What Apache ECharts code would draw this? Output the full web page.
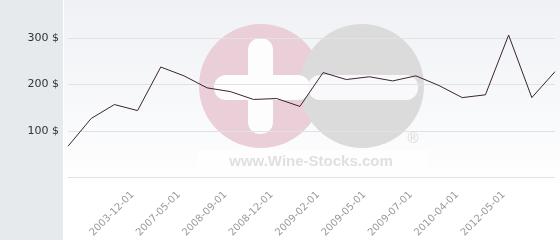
<!DOCTYPE html>
<html><head><meta charset="utf-8">
<script src="https://cdn.jsdelivr.net/npm/echarts@6/dist/echarts.min.js"></script>
<style>html,body{margin:0;padding:0;background:#fff}#c{width:560px;height:240px}</style>
</head><body><div id="c"></div>
<script>
var tickLabels = ['', '', '', '2003-12-01', '', '2007-05-01', '', '2008-09-01', '', '2008-12-01', '', '2009-02-01', '', '2009-05-01', '', '2009-07-01', '', '2010-04-01', '', '2012-05-01', '', ''];
var prices = [67, 127, 157, 144, 238, 219, 193, 185, 168, 170, 153, 226, 211, 217, 208, 219, 198, 172, 178, 307, 172, 228];
var yTicks = [0, 100, 200, 300];

var chart = echarts.init(document.getElementById('c'), null, {renderer: 'canvas'});
chart.setOption({
  animation: false,
  backgroundColor: '#ffffff',
  graphic: [
    {type: 'rect', z: -20, silent: true, shape: {x: 0, y: 0, width: 63, height: 240}, style: {fill: '#e6eaed'}},
    {type: 'rect', z: -20, silent: true, shape: {x: 64, y: 0, width: 496, height: 240},
      style: {fill: new echarts.graphic.LinearGradient(0, 0, 0, 1, [{offset: 0, color: '#eff1f5'}, {offset: 0.8, color: '#ffffff'}, {offset: 1, color: '#ffffff'}])}},
    {type: 'rect', z: -19, silent: true, shape: {x: 198, y: 150, width: 230, height: 25}, style: {fill: 'rgba(255,255,255,0.6)'}},
    {type: 'circle', z: -18, silent: true, shape: {cx: 261, cy: 86, r: 62}, style: {fill: '#eacfd8'}},
    {type: 'circle', z: -18, silent: true, shape: {cx: 362, cy: 86, r: 62}, style: {fill: '#dbdbdb'}},
    {type: 'rect', z: -17, silent: true, shape: {x: 248, y: 38, width: 25, height: 96, r: 12}, style: {fill: '#fdfdfe'}},
    {type: 'rect', z: -17, silent: true, shape: {x: 214, y: 75, width: 96, height: 25, r: 12}, style: {fill: '#fdfdfe'}},
    {type: 'rect', z: -17, silent: true, shape: {x: 308, y: 75, width: 110, height: 25, r: 12}, style: {fill: '#f9f9fb'}},
    {type: 'text', z: -16, silent: true, x: 311, y: 162, style: {text: 'www.Wine-Stocks.com', font: 'bold 15px "Liberation Sans", Arial, sans-serif', fill: '#e0e0e0', align: 'center', verticalAlign: 'middle'}},
    {type: 'text', z: -16, silent: true, x: 413, y: 139, style: {text: '®', font: '15px "Liberation Sans", Arial, sans-serif', fill: '#d8d8d8', align: 'center', verticalAlign: 'middle'}}
  ],
  grid: {left: 68, right: 5, top: 38.3, bottom: 61.7},
  xAxis: {
    type: 'category', data: tickLabels, boundaryGap: false,
    axisLine: {show: false}, axisTick: {show: false}, splitLine: {show: false},
    axisLabel: {interval: 0, rotate: 45, margin: 11, padding: [0, 7, 0, 0], color: '#9a9a9a', fontSize: 10, fontFamily: '"DejaVu Sans", sans-serif'}
  },
  yAxis: {
    type: 'value', min: 0, max: 300, interval: 100,
    axisLine: {show: false}, axisTick: {show: false},
    splitLine: {lineStyle: {color: '#e2e2e4', width: 1}},
    axisLabel: {margin: 9, color: '#333', fontSize: 11, fontFamily: '"DejaVu Sans", sans-serif',
      formatter: function (v) { return yTicks.indexOf(v) > 0 ? v + ' $' : ''; }}
  },
  series: [{
    type: 'line', data: prices, clip: false, symbol: 'none', z: 5,
    lineStyle: {color: '#3b2333', width: 1}
  }]
});
</script></body></html>
